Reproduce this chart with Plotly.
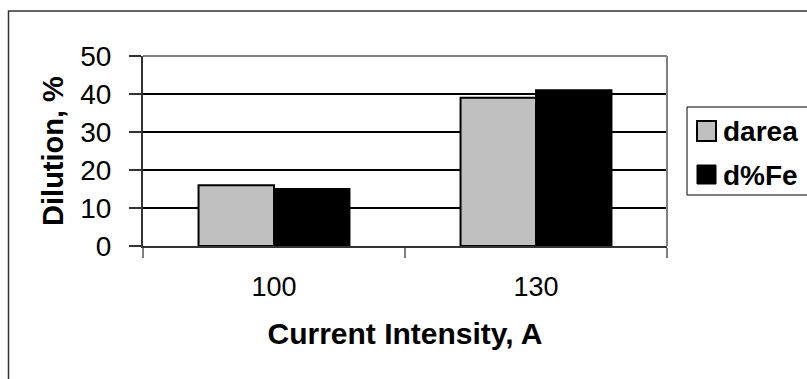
import plotly.graph_objects as go

categories = ["100", "130"]
darea = [16, 39]
dfe = [15, 41]
series_names = ["darea", "d%Fe"]
y_ticks = [0, 10, 20, 30, 40, 50]

W, H = 807, 379
L, R, T, B = 143, 667, 56, 246
pw, ph = R - L, B - T

def px(x):
    return (x - L) / pw

def py(y):
    return (B - y) / ph

FONT = "Arial, Liberation Sans, sans-serif"

fig = go.Figure()
fig.add_trace(go.Bar(x=categories, y=darea, name=series_names[0],
                     marker=dict(color="#c0c0c0", line=dict(color="black", width=2)),
                     showlegend=False))
fig.add_trace(go.Bar(x=categories, y=dfe, name=series_names[1],
                     marker=dict(color="black", line=dict(color="black", width=2)),
                     showlegend=False))

shapes = []
# outer chart frame
shapes.append(dict(type="rect", xref="paper", yref="paper",
                   x0=px(8.5), x1=px(812), y0=py(385), y1=py(11),
                   line=dict(color="#333333", width=1.5), layer="below"))
# plot area top & right (gray)
shapes.append(dict(type="line", xref="paper", yref="paper", x0=0, x1=1, y0=1, y1=1,
                   line=dict(color="#808080", width=2), layer="above"))
shapes.append(dict(type="line", xref="paper", yref="paper", x0=1, x1=1, y0=0, y1=1,
                   line=dict(color="#808080", width=2), layer="above"))
# legend box
shapes.append(dict(type="rect", xref="paper", yref="paper",
                   x0=px(687), x1=px(812), y0=py(195), y1=py(107),
                   line=dict(color="black", width=1), fillcolor="white", layer="above"))
# legend symbols
shapes.append(dict(type="rect", xref="paper", yref="paper",
                   x0=px(697), x1=px(716), y0=py(141), y1=py(121),
                   line=dict(color="black", width=2), fillcolor="#c0c0c0", layer="above"))
shapes.append(dict(type="rect", xref="paper", yref="paper",
                   x0=px(697), x1=px(716), y0=py(184), y1=py(165),
                   line=dict(color="black", width=1), fillcolor="black", layer="above"))

annotations = [
    dict(text="<b>" + series_names[0] + "</b>", xref="paper", yref="paper",
         x=px(721), y=py(131), xanchor="left", yanchor="middle", showarrow=False,
         font=dict(family=FONT, size=28, color="black")),
    dict(text="<b>" + series_names[1] + "</b>", xref="paper", yref="paper",
         x=px(721), y=py(175), xanchor="left", yanchor="middle", showarrow=False,
         font=dict(family=FONT, size=28, color="black")),
]

fig.update_layout(
    width=W, height=H,
    margin=dict(l=L, r=W - R, t=T, b=H - B, pad=0),
    paper_bgcolor="white", plot_bgcolor="white",
    barmode="group", bargap=0.424, bargroupgap=0,
    shapes=shapes, annotations=annotations,
    font=dict(family=FONT, color="black"),
)
fig.update_xaxes(
    type="category", showline=True, linecolor="#333333", linewidth=2,
    ticks="outside", tickson="boundaries", ticklen=10, tickcolor="#808080", tickwidth=2,
    tickfont=dict(family=FONT, size=27), ticklabelstandoff=16,
    title=dict(text="<b>Current Intensity, A</b>", font=dict(family=FONT, size=30), standoff=22),
    showgrid=False,
)
fig.update_yaxes(
    range=[0, 50], tickvals=y_ticks, showline=True, linecolor="#333333", linewidth=2,
    ticks="outside", ticklen=12, tickcolor="#333333", tickwidth=1.5,
    tickfont=dict(family=FONT, size=28), ticklabelstandoff=12,
    showgrid=True, gridcolor="black", gridwidth=1.5, zeroline=False,
    title=dict(text="<b>Dilution, %</b>", font=dict(family=FONT, size=29), standoff=8),
)

fig.write_html("out.html")
